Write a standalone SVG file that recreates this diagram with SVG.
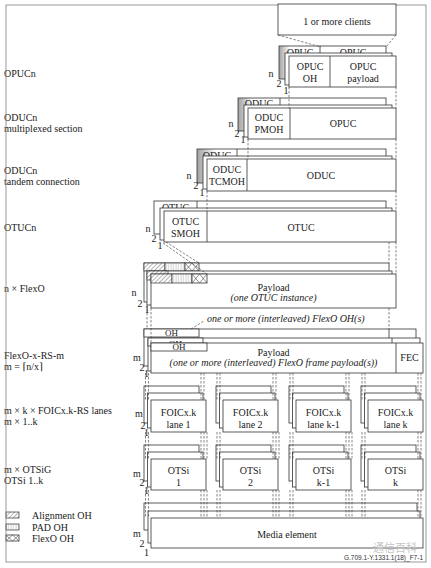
<svg xmlns="http://www.w3.org/2000/svg" width="431" height="568" viewBox="0 0 431 568">
<style>
.b{fill:#fff;stroke:#333;stroke-width:0.8}
.s{fill:url(#shade);stroke:#333;stroke-width:0.8}
.l{fill:none;stroke:#333;stroke-width:0.8}
.x{fill:none;stroke:#444;stroke-width:0.6}
.d{fill:none;stroke:#444;stroke-width:0.65;stroke-dasharray:2.5 1.5}
.t{font-family:"Liberation Serif","DejaVu Serif",serif;font-size:10px;fill:#1a1a1a}
.c{text-anchor:middle}
.i{font-style:italic}
.oh{font-size:9px}
.lbl{font-family:"Liberation Serif","DejaVu Serif",serif;font-size:10px;fill:#1a1a1a;text-anchor:middle}
</style>
<defs>
<linearGradient id="shade" x1="0" y1="0" x2="1" y2="0">
<stop offset="0" stop-color="#a0a0a0"/>
<stop offset="0.1" stop-color="#ffffff"/>
</linearGradient>
<pattern id="hatch" patternUnits="userSpaceOnUse" width="3" height="3" patternTransform="rotate(45)">
<rect width="3" height="3" fill="#fff"/>
<line x1="0" y1="0" x2="0" y2="3" stroke="#444" stroke-width="0.8"/>
</pattern>
<pattern id="pad" patternUnits="userSpaceOnUse" width="2.5" height="9">
<rect width="2.5" height="9" fill="#fff"/>
<line x1="1" y1="0" x2="1" y2="9" stroke="#aaa" stroke-width="0.6"/>
</pattern>
</defs>
<rect width="431" height="568" fill="#fff"/>

<g id="layer-labels" class="t">
<text x="4" y="76.5">OPUCn</text>
<text x="4" y="120.5">ODUCn</text>
<text x="4" y="131.5">multiplexed section</text>
<text x="4" y="173.5">ODUCn</text>
<text x="4" y="184.5">tandem connection</text>
<text x="4" y="230.5">OTUCn</text>
<text x="4" y="291.5">n × FlexO</text>
<text x="4" y="358.5">FlexO-x-RS-m</text>
<text x="4" y="369.5">m = ⌈n/x⌉</text>
<text x="4" y="413.5">m × k × FOICx.k-RS lanes</text>
<text x="4" y="424.5">m × 1..k</text>
<text x="4" y="472.5">m × OTSiG</text>
<text x="4" y="483.5">OTSi 1..k</text>
</g>

<g id="legend">
<rect x="6" y="512" width="13" height="6" fill="url(#hatch)" stroke="#333" stroke-width="0.7"/>
<rect x="6" y="524" width="13" height="6" fill="url(#pad)" stroke="#333" stroke-width="0.7"/>
<rect x="6" y="535" width="13" height="6" class="b"/>
<path class="x" d="M6 535L12.5 541M12.5 535L6 541M12.5 535L19 541M19 535L12.5 541"/>
<text class="t" x="32" y="518.5">Alignment OH</text>
<text class="t" x="32" y="530.5">PAD OH</text>
<text class="t" x="32" y="541.5">FlexO OH</text>
</g>

<rect id="frame" x="6" y="5" width="420" height="557" fill="none" stroke="#808080" stroke-width="0.8"/>

<g id="clients">
<rect class="b" x="278" y="4" width="118" height="31"/>
<text class="t c" x="337" y="24.5">1 or more clients</text>
</g>

<g id="opucn">
<rect class="s" x="279" y="46" width="107" height="33"/>
<line class="l" x1="320" y1="46" x2="320" y2="79"/>
<text class="t c" x="300" y="55.5">OPUC</text>
<text class="t c" x="353" y="55.5">OPUC</text>
<rect class="b" x="285" y="53" width="107" height="32"/>
<rect class="b" x="289" y="56" width="107" height="31"/>
<line class="l" x1="330" y1="56" x2="330" y2="87"/>
<text class="t c" x="310" y="69.5">OPUC</text>
<text class="t c" x="310" y="81.5">OH</text>
<text class="t c" x="363" y="69.5">OPUC</text>
<text class="t c" x="363" y="81.5">payload</text>
<text class="lbl" x="271" y="76.5">n</text>
<text class="lbl" x="279" y="86.5">2</text>
<text class="lbl" x="286" y="93.5">1</text>
</g>

<g id="oducn-pm">
<rect class="s" x="238" y="98" width="148" height="33"/>
<line class="l" x1="280" y1="98" x2="280" y2="131"/>
<text class="t c" x="259" y="106.5">ODUC</text>
<rect class="b" x="244" y="105" width="148" height="32"/>
<rect class="b" x="248" y="108" width="148" height="31"/>
<line class="l" x1="290" y1="108" x2="290" y2="139"/>
<text class="t c" x="269" y="120.5">ODUC</text>
<text class="t c" x="269" y="132.5">PMOH</text>
<text class="t c" x="343" y="126.5">OPUC</text>
<text class="lbl" x="231" y="126.5">n</text>
<text class="lbl" x="237" y="136.5">2</text>
<text class="lbl" x="243" y="143">1</text>
</g>

<g id="oducn-tc">
<rect class="s" x="197" y="149" width="189" height="34"/>
<line class="l" x1="237" y1="149" x2="237" y2="183"/>
<text class="t c" x="217" y="158.5">ODUC</text>
<rect class="b" x="203" y="156" width="189" height="33"/>
<rect class="b" x="207" y="159" width="189" height="32"/>
<line class="l" x1="247" y1="159" x2="247" y2="191"/>
<text class="t c" x="227" y="172.5">ODUC</text>
<text class="t c" x="227" y="184.5">TCMOH</text>
<text class="t c" x="321" y="178.5">ODUC</text>
<text class="lbl" x="189" y="178.5">n</text>
<text class="lbl" x="196" y="188.5">2</text>
<text class="lbl" x="202" y="195.5">1</text>
</g>

<g id="otucn">
<rect class="b" x="154" y="201" width="232" height="33"/>
<line class="l" x1="197" y1="201" x2="197" y2="234"/>
<text class="t c" x="175.5" y="210.5">OTUC</text>
<rect class="b" x="160" y="208" width="232" height="32"/>
<rect class="b" x="164" y="211" width="232" height="31"/>
<line class="l" x1="207" y1="211" x2="207" y2="242"/>
<text class="t c" x="185.5" y="224.5">OTUC</text>
<text class="t c" x="185.5" y="236.5">SMOH</text>
<text class="t c" x="301" y="230.5">OTUC</text>
<text class="lbl" x="148" y="231.5">n</text>
<text class="lbl" x="154" y="241.5">2</text>
<text class="lbl" x="160" y="248.5">1</text>
</g>

<g id="flexo">
<rect class="b" x="144" y="263" width="245" height="39"/>
<rect x="144" y="263" width="21" height="8" fill="url(#hatch)" stroke="#333" stroke-width="0.7"/>
<rect x="165" y="263" width="20" height="8" fill="url(#pad)" stroke="#333" stroke-width="0.7"/>
<rect class="b" x="185" y="263" width="14" height="8"/>
<path class="x" d="M185 263L192 271M192 263L185 271M192 263L199 271M199 263L192 271"/>
<rect class="b" x="147" y="271" width="245" height="34"/>
<rect x="147" y="271" width="21" height="9" fill="url(#hatch)" stroke="#333" stroke-width="0.7"/>
<rect class="b" x="151" y="274" width="245" height="34"/>
<rect x="151" y="274" width="21" height="9" fill="url(#hatch)" stroke="#333" stroke-width="0.7"/>
<rect x="172" y="274" width="20" height="9" fill="url(#pad)" stroke="#333" stroke-width="0.7"/>
<rect class="b" x="192" y="274" width="15" height="9"/>
<path class="x" d="M192 274L199.5 283M199.5 274L192 283M199.5 274L207 283M207 274L199.5 283"/>
<text class="t c" x="273.5" y="290.5">Payload</text>
<text class="t c i" x="273.5" y="300.5">(one OTUC instance)</text>
<text class="lbl" x="134" y="296">n</text>
<text class="lbl" x="140" y="307">2</text>
<text class="lbl" x="147" y="313">1</text>
</g>

<g id="flexo-oh-note">
<text class="t i" x="207" y="321.5">one or more (interleaved) FlexO OH(s)</text>
</g>

<g id="flexo-x-rs">
<rect class="b" x="144" y="329" width="272" height="37"/>
<line class="l" x1="389" y1="329" x2="389" y2="366"/>
<rect class="b" x="144" y="329" width="55" height="8"/>
<text class="t c oh" x="171.5" y="335.5">OH</text>
<rect class="b" x="148" y="338" width="272" height="33"/>
<line class="l" x1="392" y1="338" x2="392" y2="371"/>
<rect class="b" x="148" y="338" width="55" height="8"/>
<text class="t c oh" x="175.5" y="346.5">OH</text>
<rect class="b" x="151" y="343" width="272" height="30"/>
<line class="l" x1="396" y1="343" x2="396" y2="373"/>
<rect class="b" x="151" y="343" width="56" height="8"/>
<text class="t c oh" x="179" y="350">OH</text>
<text class="t c" x="273.5" y="355.5">Payload</text>
<text class="t c i" x="273.5" y="365.5">(one or more (interleaved) FlexO frame payload(s))</text>
<text class="t c" x="409.5" y="361">FEC</text>
<text class="lbl" x="137" y="360.5">m</text>
<text class="lbl" x="142" y="370.5">2</text>
<text class="lbl" x="146.5" y="377">1</text>
</g>

<g id="lane-1">
<rect class="b" x="144" y="386" width="55" height="37"/>
<rect class="b" x="147.5" y="393" width="55.5" height="35"/>
<rect class="b" x="151" y="400" width="55" height="32"/>
<text class="t c" x="178.5" y="415.5">FOICx.k</text>
<text class="t c" x="178.5" y="427.5">lane 1</text>
<text class="lbl" x="139" y="416.5">m</text>
<text class="lbl" x="143" y="428.5">2</text>
<text class="lbl" x="146.5" y="436">1</text>
</g>
<g id="lane-2">
<rect class="b" x="216" y="386" width="55" height="37"/>
<rect class="b" x="219.5" y="393" width="55.5" height="35"/>
<rect class="b" x="223" y="400" width="55" height="32"/>
<text class="t c" x="250.5" y="415.5">FOICx.k</text>
<text class="t c" x="250.5" y="427.5">lane 2</text>
</g>
<g id="lane-k-1">
<rect class="b" x="289" y="386" width="55" height="37"/>
<rect class="b" x="292.5" y="393" width="55.5" height="35"/>
<rect class="b" x="296" y="400" width="55" height="32"/>
<text class="t c" x="323.5" y="415.5">FOICx.k</text>
<text class="t c" x="323.5" y="427.5">lane k-1</text>
</g>
<g id="lane-k">
<rect class="b" x="361" y="386" width="55" height="37"/>
<rect class="b" x="364.5" y="393" width="55.5" height="35"/>
<rect class="b" x="368" y="400" width="55" height="32"/>
<text class="t c" x="395.5" y="415.5">FOICx.k</text>
<text class="t c" x="395.5" y="427.5">lane k</text>
</g>

<g id="otsi-1">
<rect class="b" x="144" y="445" width="55" height="36"/>
<rect class="b" x="147.5" y="452" width="55.5" height="35"/>
<rect class="b" x="151" y="459" width="55" height="31"/>
<text class="t c" x="178.5" y="473.5">OTSi</text>
<text class="t c" x="178.5" y="485.5">1</text>
<text class="lbl" x="137" y="476.5">m</text>
<text class="lbl" x="142" y="485.5">2</text>
<text class="lbl" x="146.5" y="494">1</text>
</g>
<g id="otsi-2">
<rect class="b" x="216" y="445" width="55" height="36"/>
<rect class="b" x="219.5" y="452" width="55.5" height="35"/>
<rect class="b" x="223" y="459" width="55" height="31"/>
<text class="t c" x="250.5" y="473.5">OTSi</text>
<text class="t c" x="250.5" y="485.5">2</text>
</g>
<g id="otsi-k-1">
<rect class="b" x="289" y="445" width="55" height="36"/>
<rect class="b" x="292.5" y="452" width="55.5" height="35"/>
<rect class="b" x="296" y="459" width="55" height="31"/>
<text class="t c" x="323.5" y="473.5">OTSi</text>
<text class="t c" x="323.5" y="485.5">k-1</text>
</g>
<g id="otsi-k">
<rect class="b" x="361" y="445" width="55" height="36"/>
<rect class="b" x="364.5" y="452" width="55.5" height="35"/>
<rect class="b" x="368" y="459" width="55" height="31"/>
<text class="t c" x="395.5" y="473.5">OTSi</text>
<text class="t c" x="395.5" y="485.5">k</text>
</g>

<g id="media">
<rect class="b" x="144" y="503" width="273" height="27"/>
<rect class="b" x="148" y="511" width="272" height="32"/>
<rect class="b" x="151" y="518" width="272" height="30"/>
<text class="t c" x="287" y="537.5">Media element</text>
<text class="lbl" x="137" y="536.5">m</text>
<text class="lbl" x="142" y="547">2</text>
<text class="lbl" x="146.5" y="556">1</text>
</g>

<g id="connectors" class="d">
<path d="M278 35L321 47M396 35L386 47"/>
<path d="M289 87V108M396 87V108"/>
<path d="M248 139V159M396 139V159"/>
<path d="M207 191V211M396 191V211"/>
<path d="M166 242L199 263M163 243L207 274"/>
<path d="M389 242V263M396 242V274"/>
<path d="M147 305V329M151 308V343M389 308V329"/>
<path d="M191 329L204 321"/>
<path d="M145.5 373V400M148.5 373V400M201 373V400M204 373V400M217 373V400M220 373V400M273 373V400M276 373V400M290 373V400M293 373V400M346 373V400M349 373V400M362 373V400M365 373V400M418 373V400M421 373V400"/>
<path d="M145.5 432V459M148.5 432V459M201 432V459M204 432V459M207 432V459M217 432V459M220 432V459M273 432V459M276 432V459M279 432V459M290 432V459M293 432V459M346 432V459M349 432V459M352 432V459M362 432V459M365 432V459M418 432V459M421 432V459"/>
<path d="M145.5 490V518M148.5 490V518M201 490V518M204 490V518M207 490V518M217 490V518M220 490V518M273 490V518M276 490V518M279 490V518M290 490V518M293 490V518M346 490V518M349 490V518M352 490V518M362 490V518M365 490V518M418 490V518M421 490V518"/>
</g>

<g id="footer">
<text x="423" y="559.5" text-anchor="end" font-family="Liberation Sans, Arial, sans-serif" font-size="6.5" fill="#333">G.709.1-Y.1331.1(18)_F7-1</text>
<text x="373" y="552" font-family="Noto Sans CJK SC, sans-serif" font-size="11" fill="#c4c4c4">通信百科</text>
</g>
</svg>
